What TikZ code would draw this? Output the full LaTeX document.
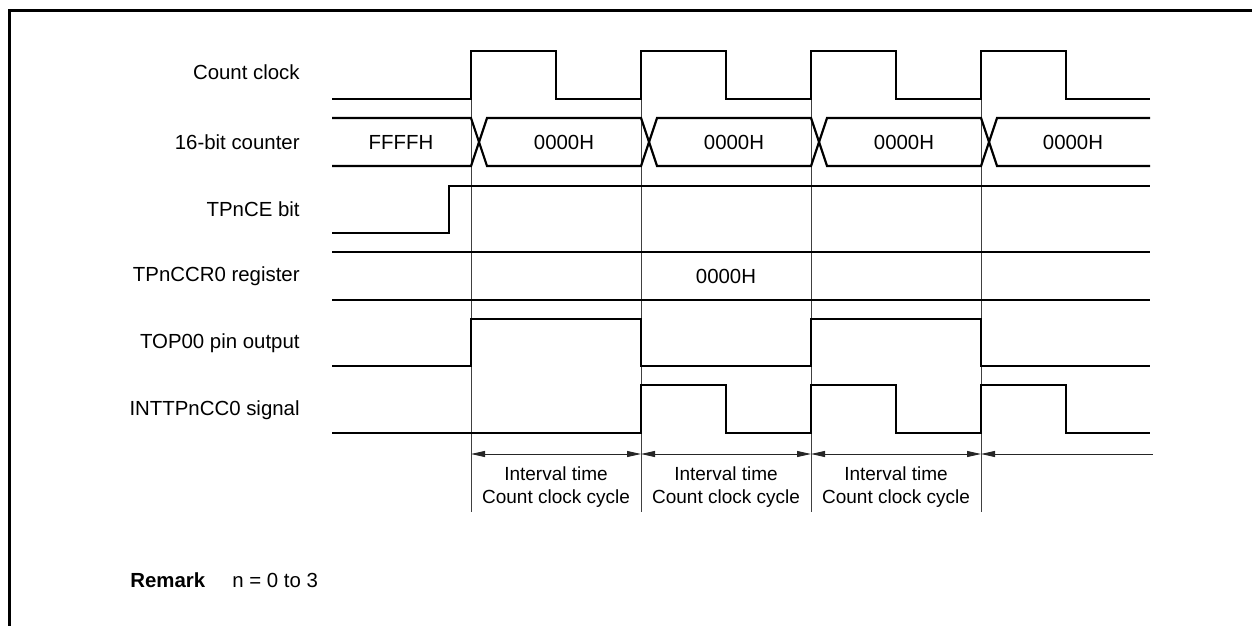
\documentclass[tikz,border=0pt]{standalone}
\usepackage{fontspec}
\setmainfont{Liberation Sans}
\usetikzlibrary{arrows.meta}

\begin{document}
\begin{tikzpicture}[x=0.5pt, y=-0.5pt,
        sig/.style={line width=1.1pt, line join=miter},
        grid/.style={line width=0.4pt, black!75},
        lbl/.style={anchor=east, inner sep=0pt, font=\fontsize{10.2}{12}\selectfont},
        val/.style={inner sep=0pt, font=\fontsize{10.2}{12}\selectfont},
        note/.style={align=center, inner sep=0pt, font=\fontsize{9.5}{11.5}\selectfont},
        span/.style={{Triangle[length=7pt, width=3pt]}-{Triangle[length=7pt, width=3pt]}, line width=0.45pt, black!85}
    ]
        \useasboundingbox (0,0) rectangle (1252,626);
        \draw[line width=1.5pt] (1252,11) -- (9,11) -- (9,626);

        % signal names
        \node[lbl] (clk) at (300,72) {Count clock};
        \node[lbl] (cnt) at (300,142) {16-bit counter};
        \node[lbl] (ce) at (300,209) {TPnCE bit};
        \node[lbl] (ccr) at (300,276) {TPnCCR0 register};
        \node[lbl] (top) at (300,343) {TOP00 pin output};
        \node[lbl] (intr) at (300,410) {INTTPnCC0 signal};

        % timing grid
        \draw[grid] (471,99) -- (471,512);
        \draw[grid] (641,99) -- (641,512);
        \draw[grid] (811,99) -- (811,512);
        \draw[grid] (981,99) -- (981,512);

        % waveforms
        \draw[sig] (332,99) -- (471,99) -- (471,51) -- (556,51) -- (556,99) -- (641,99) -- (641,51) -- (726,51)
            -- (726,99) -- (811,99) -- (811,51) -- (896,51) -- (896,99) -- (981,99) -- (981,51) -- (1066,51)
            -- (1066,99) -- (1150,99);
        \draw[sig] (332,118) -- (471,118) -- (487,166) -- (641,166) -- (657,118) -- (811,118) -- (827,166)
            -- (981,166) -- (997,118) -- (1150,118);
        \draw[sig] (332,166) -- (471,166) -- (487,118) -- (641,118) -- (657,166) -- (811,166) -- (827,118)
            -- (981,118) -- (997,166) -- (1150,166);
        \draw[sig] (332,233) -- (449,233) -- (449,186) -- (1150,186);
        \draw[sig] (332,252) -- (1150,252);
        \draw[sig] (332,300) -- (1150,300);
        \draw[sig] (332,366) -- (471,366) -- (471,319) -- (641,319) -- (641,366) -- (811,366) -- (811,319)
            -- (981,319) -- (981,366) -- (1150,366);
        \draw[sig] (332,433) -- (641,433) -- (641,385) -- (726,385) -- (726,433) -- (811,433) -- (811,385)
            -- (896,385) -- (896,433) -- (981,433) -- (981,385) -- (1066,385) -- (1066,433) -- (1150,433);

        % values
        \node[val] (cnt0) at (401,142) {FFFFH};
        \node[val] (cnt1) at (564,142) {0000H};
        \node[val] (cnt2) at (734,142) {0000H};
        \node[val] (cnt3) at (904,142) {0000H};
        \node[val] (cnt4) at (1073,142) {0000H};
        \node[val] (ccrval) at (726,276) {0000H};

        % intervals
        \coordinate (e1) at (471,454);
        \coordinate (e2) at (641,454);
        \coordinate (e3) at (811,454);
        \coordinate (e4) at (981,454);
        \coordinate (eEnd) at (1153,454);
        \draw[span] (e1) -- (e2);
        \draw[span] (e2) -- (e3);
        \draw[span] (e3) -- (e4);
        \draw[span, {Triangle[length=7pt, width=3pt]}-] (e4) -- (eEnd);
        \node[note] (iv1) at (556,487) {Interval time\\Count clock cycle};
        \node[note] (iv2) at (726,487) {Interval time\\Count clock cycle};
        \node[note] (iv3) at (896,487) {Interval time\\Count clock cycle};

        \node[anchor=west, inner sep=0pt, font=\fontsize{10.2}{12}\selectfont\bfseries] (rem) at (130,580) {Remark};
        \node[anchor=west, inner sep=0pt, font=\fontsize{10.2}{12}\selectfont] (remtxt) at (232,580) {n = 0 to 3};
    \end{tikzpicture}
\end{document}
